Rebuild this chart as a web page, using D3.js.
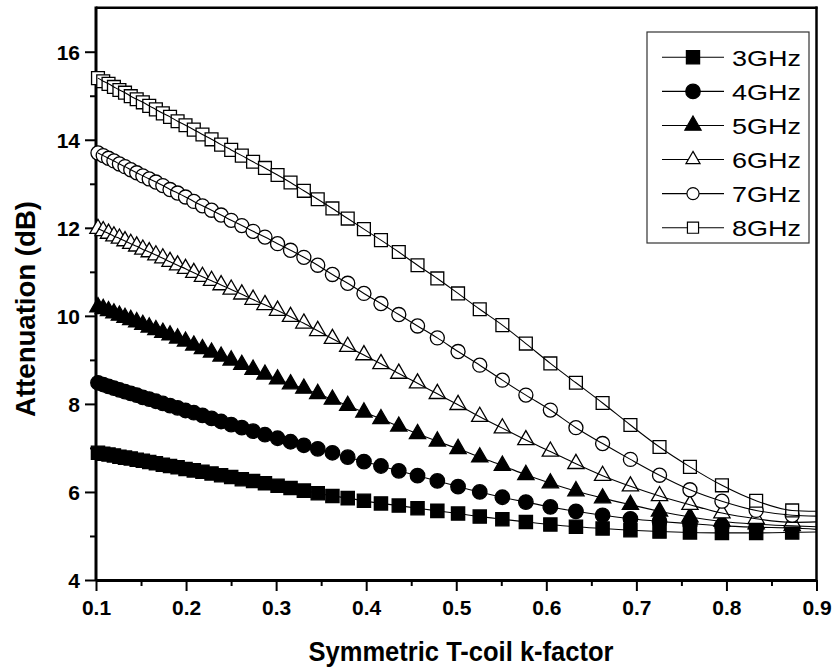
<!DOCTYPE html>
<html><head><meta charset="utf-8">
<script src="https://cdn.jsdelivr.net/npm/d3@7"></script>
<style>body{margin:0;background:#fff}svg{display:block}</style>
</head><body><svg id="c" width="835" height="671"></svg>
<script>
// ---- data ----
const kFactor = [0.1022,0.1080,0.1139,0.1199,0.1260,0.1322,0.1386,0.1452,0.1520,0.1591,
  0.1665,0.1742,0.1822,0.1906,0.1994,0.2086,0.2182,0.2283,0.2389,0.2501,
  0.2619,0.2744,0.2876,0.3016,0.3160,0.3308,0.3462,0.3625,0.3795,0.3975,
  0.4164,0.4362,0.4570,0.4790,0.5020,0.5261,0.5512,0.5773,0.6045,0.6329,
  0.6625,0.6934,0.7257,0.7595,0.7950,0.8330,0.8730];
const att3GHz = [6.89,6.87,6.85,6.83,6.80,6.78,6.76,6.73,6.71,6.68,6.65,6.62,6.59,6.56,6.52,6.49,6.46,6.42,6.38,6.34,
  6.29,6.25,6.20,6.14,6.09,6.03,5.97,5.91,5.86,5.80,5.74,5.69,5.63,5.57,5.51,5.44,5.38,5.32,5.26,5.21,
  5.17,5.13,5.10,5.08,5.07,5.07,5.08];
const att4GHz = [8.48,8.44,8.40,8.36,8.32,8.28,8.24,8.20,8.15,8.11,8.06,8.01,7.96,7.91,7.85,7.80,7.74,7.67,7.60,7.53,
  7.46,7.38,7.30,7.22,7.14,7.06,6.98,6.89,6.79,6.69,6.59,6.48,6.37,6.25,6.12,6.00,5.88,5.77,5.66,5.56,
  5.47,5.39,5.33,5.28,5.23,5.20,5.18];
const att5GHz = [10.20,10.16,10.11,10.06,10.01,9.96,9.91,9.86,9.80,9.74,9.68,9.62,9.56,9.49,9.42,9.33,9.25,9.17,9.08,8.99,
  8.89,8.78,8.67,8.56,8.45,8.35,8.23,8.10,7.96,7.81,7.66,7.49,7.32,7.15,6.98,6.79,6.60,6.39,6.20,6.02,
  5.86,5.71,5.56,5.43,5.33,5.27,5.23];
const att6GHz = [11.98,11.93,11.87,11.81,11.76,11.70,11.64,11.58,11.51,11.45,11.38,11.31,11.23,11.15,11.07,10.98,10.89,10.80,10.70,10.60,
  10.49,10.37,10.25,10.12,9.98,9.83,9.66,9.48,9.30,9.11,8.91,8.69,8.47,8.23,7.98,7.71,7.45,7.18,6.92,6.64,
  6.37,6.13,5.91,5.71,5.52,5.39,5.31];
const att7GHz = [13.70,13.64,13.58,13.52,13.45,13.39,13.32,13.25,13.18,13.11,13.04,12.96,12.87,12.79,12.70,12.60,12.50,12.40,12.29,12.17,
  12.05,11.92,11.79,11.64,11.49,11.33,11.15,10.94,10.74,10.51,10.28,10.03,9.77,9.50,9.19,8.88,8.54,8.20,7.86,7.46,
  7.10,6.74,6.38,6.05,5.79,5.58,5.47];
const att8GHz = [15.40,15.33,15.27,15.20,15.13,15.07,14.99,14.92,14.85,14.77,14.69,14.60,14.52,14.42,14.33,14.23,14.12,14.01,13.89,13.77,
  13.64,13.50,13.36,13.20,13.03,12.84,12.65,12.44,12.21,11.97,11.72,11.45,11.15,10.85,10.51,10.15,9.79,9.37,8.92,8.48,
  8.02,7.52,7.02,6.57,6.15,5.80,5.58];
const seriesNames = ["3GHz","4GHz","5GHz","6GHz","7GHz","8GHz"];
const lineEndK = 0.9;
const lineEndValues = [5.09,5.15,5.21,5.32,5.45,5.56];
const xTickValues = [0.1,0.2,0.3,0.4,0.5,0.6,0.7,0.8,0.9];
const xMinorTicks = [0.15,0.25,0.35,0.45,0.55,0.65,0.75,0.85];
const yTickValues = [4,6,8,10,12,14,16];
const yMinorTicks = [5,7,9,11,13,15];

// ---- chart ----
const seriesValues = [att3GHz, att4GHz, att5GHz, att6GHz, att7GHz, att8GHz];
const markerShapes = [
  {type: d3.symbolSquare, size: 175, fill: "#000"},
  {type: d3.symbolCircle, size: 165, fill: "#000"},
  {type: d3.symbolTriangle, size: 115, fill: "#000"},
  {type: d3.symbolTriangle, size: 115, fill: "#fff"},
  {type: d3.symbolCircle, size: 155, fill: "#fff"},
  {type: d3.symbolSquare, size: 165, fill: "#fff"}
];
const FONT = "'Liberation Sans', Arial, Helvetica, sans-serif";
const svg = d3.select("#c");
const x = d3.scaleLinear().domain([0.1, 0.9]).range([96, 816.5]);
const y = d3.scaleLinear().domain([4, 17]).range([580, 7.7]);

// frame (top & right)
svg.append("line").attr("x1", 96).attr("x2", 817.5).attr("y1", 7.7).attr("y2", 7.7)
  .attr("stroke", "#000").attr("stroke-width", 2.5);
svg.append("line").attr("x1", 816.5).attr("x2", 816.5).attr("y1", 6.5).attr("y2", 580)
  .attr("stroke", "#000").attr("stroke-width", 2.5);

// axes
function styleAxis(g) {
  g.select(".domain").attr("stroke-width", 3);
  g.selectAll(".tick line").attr("stroke-width", 2);
  g.selectAll("text").attr("font-family", FONT).attr("font-weight", "bold")
    .attr("font-size", 21).attr("fill", "#000");
}
const gx = svg.append("g").attr("transform", "translate(0,580)")
  .call(d3.axisBottom(x).tickValues(xTickValues).tickSize(11).tickSizeOuter(0)
    .tickFormat(d3.format(".1f")));
styleAxis(gx);
gx.selectAll("text").attr("dy", null).attr("y", 35);
svg.append("g").attr("transform", "translate(0,580)")
  .call(d3.axisBottom(x).tickValues(xMinorTicks).tickSize(6).tickFormat(""))
  .call(g => { g.select(".domain").remove(); g.selectAll(".tick line").attr("stroke-width", 2); });

const gy = svg.append("g").attr("transform", "translate(96,0)")
  .call(d3.axisLeft(y).tickValues(yTickValues).tickSize(11).tickSizeOuter(0).tickPadding(5));
styleAxis(gy);
gy.selectAll("text").attr("dy", "0.36em");
gy.select(".domain").attr("d", "M0," + y(4) + "V" + 6.5);
svg.append("g").attr("transform", "translate(96,0)")
  .call(d3.axisLeft(y).tickValues(yMinorTicks).tickSize(6).tickFormat(""))
  .call(g => { g.select(".domain").remove(); g.selectAll(".tick line").attr("stroke-width", 2); });

// axis titles
svg.append("text").attr("x", 461).attr("y", 661).attr("text-anchor", "middle")
  .attr("font-family", FONT).attr("font-weight", "bold").attr("font-size", 27)
  .attr("textLength", 305).attr("lengthAdjust", "spacingAndGlyphs")
  .text("Symmetric T-coil k-factor");
svg.append("text").attr("transform", "translate(35,309) rotate(-90)").attr("text-anchor", "middle")
  .attr("font-family", FONT).attr("font-weight", "bold").attr("font-size", 27)
  .attr("textLength", 216).attr("lengthAdjust", "spacingAndGlyphs")
  .text("Attenuation (dB)");

// markers
const symGen = d3.symbol();
seriesValues.forEach((vals, si) => {
  const m = markerShapes[si];
  svg.append("g").selectAll("path").data(kFactor.map((k, i) => [k, vals[i]])).join("path")
    .attr("transform", d => `translate(${x(d[0])},${y(d[1])})`)
    .attr("d", symGen.type(m.type).size(m.size)())
    .attr("fill", m.fill).attr("stroke", "#000").attr("stroke-width", 1.3);
});
// lines
const lineGen = d3.line().x(d => x(d[0])).y(d => y(d[1])).curve(d3.curveMonotoneX);
seriesValues.forEach((vals, si) => {
  const pts = kFactor.map((k, i) => [k, vals[i]]).concat([[lineEndK, lineEndValues[si]]]);
  svg.append("path").attr("d", lineGen(pts)).attr("fill", "none")
    .attr("stroke", "#000").attr("stroke-width", 1.1);
});

// legend
const lg = svg.append("g");
lg.append("rect").attr("x", 647).attr("y", 32).attr("width", 162).attr("height", 211)
  .attr("fill", "#fff").attr("stroke", "#333").attr("stroke-width", 1.2);
const rowY = d3.scalePoint().domain(seriesNames).range([57.3, 227.7]);
seriesNames.forEach((name, si) => {
  const cy = rowY(name);
  const m = markerShapes[si];
  lg.append("line").attr("x1", 662).attr("x2", 724).attr("y1", cy).attr("y2", cy)
    .attr("stroke", "#000").attr("stroke-width", 1.1);
  lg.append("path").attr("transform", `translate(693,${cy})`)
    .attr("d", symGen.type(m.type).size(m.fill === "#fff" ? m.size * 0.75 : m.size)())
    .attr("fill", m.fill).attr("stroke", "#000").attr("stroke-width", 1.2);
  lg.append("text").attr("x", 732).attr("y", cy + 8.3)
    .attr("font-family", FONT).attr("font-size", 22)
    .attr("textLength", 69).attr("lengthAdjust", "spacingAndGlyphs").text(name);
});
</script>
</body></html>
